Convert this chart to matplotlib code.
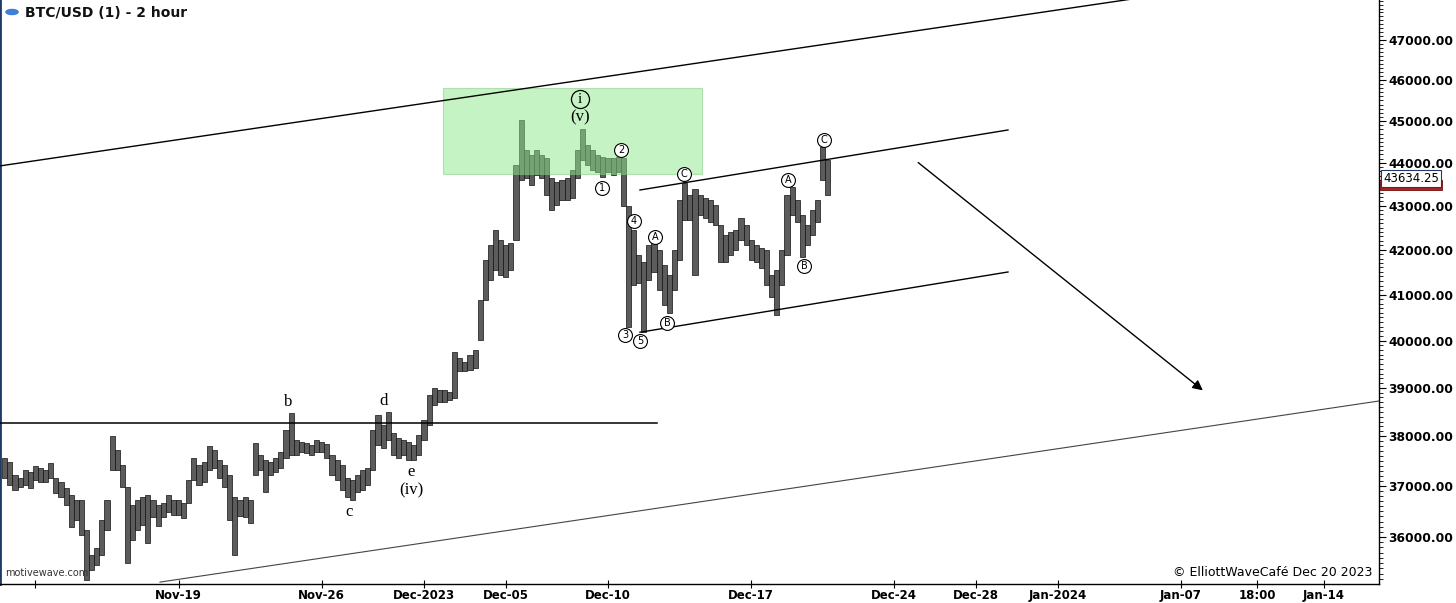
import matplotlib
matplotlib.use("Agg")
import matplotlib.pyplot as plt
import matplotlib.ticker as ticker
import matplotlib.dates as mdates
import matplotlib.transforms as mtransforms
from matplotlib.patches import Rectangle, Circle
import pandas as pd

# price bars (6h resolution)
bar_start = "2023-11-10 12:00"
highs = [
    37560, 37480, 37220, 37160, 37320, 37280, 37400, 37360, 37320, 37460,
    37160, 37080, 36960, 36820, 36720, 36720, 36140, 35650, 35790, 36330,
    36720, 38000, 37720, 37420, 36980, 36620, 36720, 36780, 36820, 36720,
    36620, 36660, 36820, 36720, 36720, 36660, 37120, 37560, 37420, 37480,
    37800, 37720, 37520, 37420, 37220, 36780, 36720, 36780, 36720, 37860,
    37620, 37520, 37480, 37560, 37680, 38130, 38470, 37920, 37880, 37860,
    37820, 37920, 37880, 37840, 37620, 37520, 37420, 37160, 37120, 37220,
    37320, 37360, 38130, 38430, 38230, 38490, 38070, 37960, 37920, 37880,
    37820, 38020, 38330, 38850, 39000, 38950, 38950, 38910, 39750, 39630,
    39550, 39690, 39800, 40880, 41770, 42100, 42440, 42220, 42100, 42150,
    43950, 45030, 44310, 44190, 44310, 44190, 44120, 43650, 43550, 43600,
    43650, 43830, 44310, 44800, 44430, 44310, 44190, 44140, 44120, 44120,
    44140, 44120, 43000, 42450, 41880, 41720, 42100, 42150, 41990, 41660,
    41430, 41990, 43130, 43530, 43250, 43400, 43250, 43180, 43130, 43020,
    42560, 42330, 42400, 42450, 42720, 42560, 42220, 42100, 42040, 41990,
    41430, 41540, 41990, 43250, 43430, 43130, 42790, 42560, 42900, 43130,
    44370, 44070]
lows = [
    37160, 37020, 36920, 36980, 37020, 36960, 37120, 37080, 37080, 37160,
    36860, 36780, 36620, 36200, 36330, 36040, 35180, 35370, 35460, 35650,
    36140, 37320, 37320, 36980, 35500, 35940, 36140, 36230, 35880, 36390,
    36210, 36390, 36490, 36430, 36430, 36370, 36660, 37120, 37020, 37080,
    37320, 37360, 37160, 36980, 36330, 35650, 36400, 36390, 36270, 37220,
    37320, 36880, 37220, 37280, 37360, 37560, 37620, 37620, 37680, 37660,
    37620, 37680, 37680, 37560, 37220, 37120, 36920, 36780, 36720, 36880,
    36920, 37020, 37320, 37820, 37760, 37920, 37620, 37560, 37620, 37520,
    37520, 37620, 37920, 38230, 38640, 38700, 38700, 38750, 38790, 39350,
    39350, 39370, 39420, 40010, 40880, 41320, 41540, 41430, 41390, 41540,
    42220, 43600, 43650, 43480, 43720, 43650, 43250, 42900, 43020, 43130,
    43130, 43180, 43650, 44070, 43950, 43830, 43790, 43670, 43790, 43720,
    43790, 43000, 40290, 41210, 41250, 40180, 41320, 41500, 41100, 40770,
    40600, 41100, 41770, 42670, 42670, 41430, 42790, 42720, 42630, 42560,
    41720, 41720, 41880, 41990, 42220, 42100, 41770, 41720, 41590, 41210,
    40950, 40550, 41210, 41880, 42790, 42630, 41830, 42100, 42330, 42630,
    43600, 43250]
last_price = 43634.25
prev_price = 43599.41

y_ticks = [36000, 37000, 38000, 39000, 40000, 41000, 42000, 43000, 44000, 45000, 46000, 47000]
x_tick_dates = ["2023-11-12", "2023-11-19", "2023-11-26", "2023-12-01", "2023-12-05",
                "2023-12-10", "2023-12-17", "2023-12-24", "2023-12-28", "2024-01-01",
                "2024-01-07", "2024-01-10 18:00", "2024-01-14"]
x_tick_labels = ["", "Nov-19", "Nov-26", "Dec-2023", "Dec-05", "Dec-10", "Dec-17",
                 "Dec-24", "Dec-28", "Jan-2024", "Jan-07", "18:00", "Jan-14"]

# drawn objects: (dates, prices)
upper_line = (["2023-11-10 06:24", "2024-01-07 22:45"], [43930, 48304])
lower_line = (["2023-11-18 02:10", "2024-01-16 16:48"], [35140, 38725])
flat_line = (["2023-11-10 06:24", "2023-12-12 09:27"], [38270, 38270])
chan_top = (["2023-12-11 13:30", "2023-12-29 13:22"], [43366, 44785])
chan_bot = (["2023-12-11 13:30", "2023-12-29 13:22"], [40180, 41500])
arrow_pts = (["2023-12-25 01:25", "2024-01-08 04:35"], [44050, 38910])
box_dates = ["2023-12-01 22:18", "2023-12-14 14:15"]
box_prices = [43740, 45805]

plain_labels = ["b", "d", "c", "e", "(iv)", "(v)"]
plain_dates = ["2023-11-24 08:24", "2023-11-29 01:03", "2023-11-27 08:00",
               "2023-11-30 08:44", "2023-11-30 08:44", "2023-12-08 15:04"]
plain_prices = [38705, 38725, 36487, 37278, 36920, 45098]

circ_labels = ["1", "2", "3", "4", "5", "A", "B", "C", "A", "B", "C"]
circ_dates = ["2023-12-09 16:54", "2023-12-10 15:12", "2023-12-10 19:54", "2023-12-11 06:27",
              "2023-12-11 13:30", "2023-12-12 07:06", "2023-12-12 21:11", "2023-12-13 17:08",
              "2023-12-18 19:12", "2023-12-19 13:58", "2023-12-20 13:26"]
circ_prices = [43413, 44307, 40121, 42651, 39990, 42286, 40380, 43740, 43599, 41634, 44545]
big_circ = ("i", "2023-12-08 15:04", 45531)

W, H = 1456, 603
fig = plt.figure(figsize=(W / 100, H / 100), dpi=100)
ax = fig.add_axes([0, 19 / H, 1379 / W, 584 / H])

t = pd.date_range(bar_start, periods=len(highs), freq="6h")
hi = pd.Series(highs, dtype=float)
lo = pd.Series(lows, dtype=float)
ax.bar(t, hi - lo, bottom=lo, width=0.25, color="#5c5c5c", edgecolor="#111111",
       linewidth=0.5, zorder=2)

def d(s):
    return mdates.date2num(pd.Timestamp(s))

# green zone
ax.fill_between([d(box_dates[0]), d(box_dates[1])], box_prices[0], box_prices[1],
                facecolor="#8ee889", alpha=0.5, edgecolor="#7cc97a", linewidth=0.8, zorder=3)

for ln, c, lw in [(upper_line, "black", 1.0), (lower_line, "#444444", 0.8),
                  (flat_line, "black", 1.1), (chan_top, "black", 1.0), (chan_bot, "black", 1.0)]:
    ax.plot([d(s) for s in ln[0]], ln[1], color=c, lw=lw, zorder=4)

ax.annotate("", xy=(d(arrow_pts[0][1]), arrow_pts[1][1]),
            xytext=(d(arrow_pts[0][0]), arrow_pts[1][0]),
            arrowprops=dict(arrowstyle="-|>", color="black", lw=1.0, mutation_scale=15), zorder=4)

for s, dt_, p in zip(plain_labels, plain_dates, plain_prices):
    ax.text(d(dt_), p, s, ha="center", va="center", fontsize=12,
            family="Liberation Serif", zorder=5)

for s, dt_, p in zip(circ_labels, circ_dates, circ_prices):
    ax.plot(d(dt_), p, "o", ms=10, mfc="white", mec="black", mew=0.8, zorder=5)
    ax.text(d(dt_), p, s, ha="center", va="center", fontsize=7, zorder=6)
ax.plot(d(big_circ[1]), big_circ[2], "o", ms=13, mfc="none", mec="black", mew=0.9, zorder=5)
ax.text(d(big_circ[1]), big_circ[2], big_circ[0], ha="center", va="center", fontsize=11,
        family="Liberation Serif", zorder=6)

ax.set_yscale("log")
ax.set_ylim(35104, 48019)
ax.set_xlim(d("2023-11-10 06:24"), d("2024-01-16 16:48"))

ax.yaxis.tick_right()
ax.yaxis.set_major_locator(ticker.FixedLocator(y_ticks))
ax.yaxis.set_major_formatter(ticker.FuncFormatter(lambda v, pos: "%.2f" % v))
ax.yaxis.set_minor_locator(ticker.FixedLocator(list(range(35200, 48100, 100))))
ax.yaxis.set_minor_formatter(ticker.NullFormatter())
ax.tick_params(axis="y", which="major", length=5, width=0.8, pad=1.5, labelsize=8.8)
ax.tick_params(axis="y", which="minor", length=3, width=0.6)
for lab in ax.get_yticklabels():
    lab.set_fontweight("bold")

ax.xaxis.set_major_locator(ticker.FixedLocator([d(s) for s in x_tick_dates]))
ax.xaxis.set_major_formatter(ticker.FixedFormatter(x_tick_labels))
ax.tick_params(axis="x", which="major", direction="inout", length=6, width=0.8,
               pad=0.5, labelsize=8.5)
for lab in ax.get_xticklabels():
    lab.set_fontweight("bold")

ax.spines["top"].set_visible(False)
ax.spines["left"].set_color("#1f3a66")
ax.spines["left"].set_linewidth(2)
ax.spines["bottom"].set_linewidth(1.0)
ax.spines["right"].set_linewidth(1.0)

# current price tag; the older red tag only peeks out underneath
tr = mtransforms.blended_transform_factory(ax.transAxes, ax.transData)
ax.add_patch(Rectangle((1.001, prev_price * 0.9946), 0.045, prev_price * 0.0054, transform=tr,
                       facecolor="#b02020", edgecolor="#701010", lw=0.6, clip_on=False, zorder=6))
ax.text(1.003, last_price, "%.2f" % last_price, transform=tr, ha="left", va="center",
        fontsize=8.5, color="black", clip_on=False, zorder=7,
        bbox=dict(boxstyle="square,pad=0.15", fc="white", ec="#1f3a66", lw=0.8))

ax.text(0.0036, 0.019, "motivewave.com", transform=ax.transAxes, fontsize=7,
        color="#333333", va="center", ha="left")
ax.text(0.9955, 0.019, "\u00a9 ElliottWaveCaf\u00e9 Dec 20 2023", transform=ax.transAxes,
        fontsize=9, va="center", ha="right")

fig.patches.append(Circle((12 / W, 1 - 12 / H), 0.0042,
                   transform=fig.transFigure, color="#3f7fdc", zorder=10))
fig.text(25 / W, 1 - 13 / H, "BTC/USD (1) - 2 hour", fontsize=10, fontweight="bold",
         va="center", ha="left", color="#111111")

fig.savefig("out.png", dpi=100)
